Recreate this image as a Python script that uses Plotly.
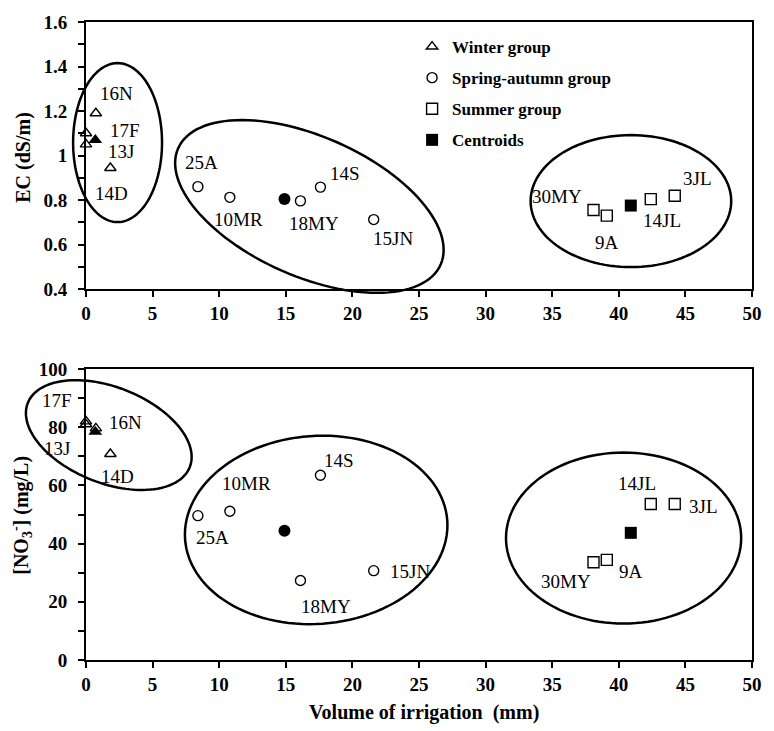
import math
import plotly.graph_objects as go

# ---------------- data ----------------
winter_names = ["16N", "17F", "13J", "14D"]
winter_irrig = [0.74, 0.0, 0.0, 1.83]
winter_ec = [1.19, 1.10, 1.05, 0.944]
winter_no3 = [79.6, 82.0, 81.0, 70.8]

spring_names = ["25A", "10MR", "18MY", "14S", "15JN"]
spring_irrig = [8.4, 10.8, 16.1, 17.6, 21.6]
spring_ec = [0.86, 0.812, 0.796, 0.858, 0.712]
spring_no3 = [49.6, 51.1, 27.3, 63.5, 30.7]

summer_names = ["30MY", "9A", "14JL", "3JL"]
summer_irrig = [38.1, 39.1, 42.4, 44.2]
summer_ec = [0.755, 0.73, 0.804, 0.819]
summer_no3 = [33.6, 34.4, 53.6, 53.6]

centroid_irrig = [0.7, 14.9, 40.9]
centroid_ec = [1.07, 0.805, 0.775]
centroid_no3 = [78.4, 44.4, 43.7]

x_ticks = [0, 5, 10, 15, 20, 25, 30, 35, 40, 45, 50]

# ---------------- layout constants ----------------
W, H = 774, 731
ML, MR, MT, MB = 86, 14, 22, 71
PW = W - ML - MR
PH = H - MT - MB
TOP_DOM = [(660 - 289) / PH, 1.0]
BOT_DOM = [0.0, (660 - 369) / PH]
X_RANGE = [0, 50]
EC_RANGE = [0.4, 1.6]
NO3_RANGE = [0, 100]

SERIF = "Liberation Serif"
TICKFONT = dict(family=SERIF, size=19, color="black", weight="bold")
LABELFONT = dict(family=SERIF, size=19, color="black")

# label offsets in px (dx right, dy down) for each named point
top_off = {
    "16N": (21, -20), "17F": (39, -3), "13J": (35, 7), "14D": (1, 26),
    "25A": (4, -24), "10MR": (9, 22), "18MY": (14, 23), "14S": (25, -14), "15JN": (19, 19),
    "30MY": (-36, -14), "9A": (0, 27), "14JL": (11, 21), "3JL": (23, -17),
}
bot_off = {
    "16N": (30, -6), "17F": (-29, -21), "13J": (-29, 24), "14D": (7, 23),
    "25A": (15, 22), "10MR": (17, -28), "18MY": (26, 26), "14S": (19, -15), "15JN": (36, 1),
    "30MY": (-27, 19), "9A": (24, 12), "14JL": (-14, -21), "3JL": (29, 2),
}

# ellipses: (cx, cy, semi-axis a px, semi-axis b px, rotation deg clockwise)
top_ellipses = [(2.37, 1.058, 45, 79.5, 0), (16.77, 0.771, 145, 70, 23.5), (40.91, 0.795, 101.5, 66, 0)]
bot_ellipses = [(1.71, 77.3, 88, 48, 21.2), (17.28, 44.7, 133, 94, -4), (40.36, 41.9, 119, 85.5, 0)]

fig = go.Figure()

def add_panel(ycol_w, ycol_s, ycol_su, ycol_c, xa, ya, legend):
    open_line = dict(color="black", width=1.4)
    fig.add_trace(go.Scatter(x=winter_irrig, y=ycol_w, mode="markers", name="Winter group",
                             xaxis=xa, yaxis=ya, showlegend=legend, legendgroup="w", cliponaxis=False,
                             marker=dict(symbol="triangle-up-open", size=10, color="black", line=open_line)))
    fig.add_trace(go.Scatter(x=spring_irrig, y=ycol_s, mode="markers", name="Spring-autumn group",
                             xaxis=xa, yaxis=ya, showlegend=legend, legendgroup="s", cliponaxis=False,
                             marker=dict(symbol="circle-open", size=10, color="black", line=open_line)))
    fig.add_trace(go.Scatter(x=summer_irrig, y=ycol_su, mode="markers", name="Summer group",
                             xaxis=xa, yaxis=ya, showlegend=legend, legendgroup="su", cliponaxis=False,
                             marker=dict(symbol="square-open", size=11, color="black", line=open_line)))
    fig.add_trace(go.Scatter(x=centroid_irrig, y=ycol_c, mode="markers", name="Centroids",
                             xaxis=xa, yaxis=ya, showlegend=False, cliponaxis=False,
                             marker=dict(symbol=["triangle-up", "circle", "square"], size=12,
                                         color="black", opacity=1)))

add_panel(winter_ec, spring_ec, summer_ec, centroid_ec, "x", "y", True)
add_panel(winter_no3, spring_no3, summer_no3, centroid_no3, "x2", "y2", False)
# legend-only entry for centroids
fig.add_trace(go.Scatter(x=[None], y=[None], mode="markers", name="Centroids", legendgroup="c",
                         marker=dict(symbol="square", size=12, color="black"), xaxis="x", yaxis="y"))

annotations = []
def add_labels(names, xs, ys, offs, xa, ya):
    for n, xv, yv in zip(names, xs, ys):
        dx, dy = offs[n]
        annotations.append(dict(x=xv, y=yv, xref=xa, yref=ya, text=n, showarrow=False,
                                xanchor="center", yanchor="middle",
                                xshift=dx, yshift=-dy, font=LABELFONT))

add_labels(winter_names, winter_irrig, winter_ec, top_off, "x", "y")
add_labels(spring_names, spring_irrig, spring_ec, top_off, "x", "y")
add_labels(summer_names, summer_irrig, summer_ec, top_off, "x", "y")
add_labels(winter_names, winter_irrig, winter_no3, bot_off, "x2", "y2")
add_labels(spring_names, spring_irrig, spring_no3, bot_off, "x2", "y2")
add_labels(summer_names, summer_irrig, summer_no3, bot_off, "x2", "y2")

TITLEFONT = dict(family=SERIF, size=20, color="black", weight="bold")
annotations.append(dict(x=(22 - ML) / PW, y=(660 - 157) / PH, xref="paper", yref="paper",
                        xanchor="center", yanchor="middle",
                        text="EC (dS/m)", textangle=-90, showarrow=False, font=TITLEFONT))
annotations.append(dict(x=(21 - ML) / PW, y=(660 - 515) / PH, xref="paper", yref="paper",
                        xanchor="center", yanchor="middle",
                        text="[NO<sub>3</sub><sup>-</sup>] (mg/L)", textangle=-90, showarrow=False,
                        font=TITLEFONT))
annotations.append(dict(x=(428 - ML) / PW, y=(660 - 712) / PH, xref="paper", yref="paper",
                        xanchor="center", yanchor="middle",
                        text="Volume of irrigation\u00a0\u00a0(mm)", showarrow=False, font=TITLEFONT))

# ellipse shapes in axis-domain coordinates (not clipped)
def ellipse_path(cx, cy, a, b, rot, xr, yr, dom):
    hpx = (dom[1] - dom[0]) * PH
    fx0 = (cx - xr[0]) / (xr[1] - xr[0])
    fy0 = (cy - yr[0]) / (yr[1] - yr[0])
    th = math.radians(rot)
    pts = []
    for i in range(121):
        t = 2 * math.pi * i / 120
        dxp = a * math.cos(t) * math.cos(th) - b * math.sin(t) * math.sin(th)
        dyp = a * math.cos(t) * math.sin(th) + b * math.sin(t) * math.cos(th)
        pts.append((fx0 + dxp / PW, fy0 - dyp / hpx))
    return "M " + " L ".join(f"{p[0]:.5f},{p[1]:.5f}" for p in pts) + " Z"

shapes = []
for e in top_ellipses:
    shapes.append(dict(type="path", xref="x domain", yref="y domain",
                       path=ellipse_path(*e, X_RANGE, EC_RANGE, TOP_DOM),
                       line=dict(color="black", width=2.5), layer="above"))
for e in bot_ellipses:
    shapes.append(dict(type="path", xref="x2 domain", yref="y2 domain",
                       path=ellipse_path(*e, X_RANGE, NO3_RANGE, BOT_DOM),
                       line=dict(color="black", width=2.5), layer="above"))

axis_common = dict(showline=True, linecolor="black", linewidth=2, mirror=True, showgrid=False,
                   zeroline=False, ticks="outside", ticklen=6, tickwidth=1.5, tickcolor="black",
                   tickfont=TICKFONT)

fig.update_layout(
    width=W, height=H,
    margin=dict(l=ML, r=MR, t=MT, b=MB),
    paper_bgcolor="white", plot_bgcolor="white",
    xaxis=dict(domain=[0, 1], anchor="y", range=X_RANGE, tickvals=x_ticks, **axis_common),
    yaxis=dict(domain=TOP_DOM, anchor="x", range=EC_RANGE, tick0=0.4, dtick=0.2,
               ticklabelstandoff=7,
               minor=dict(dtick=0.1, tick0=0.4, ticks="outside", ticklen=6, tickwidth=1.5,
                          tickcolor="black", showgrid=False),
               **axis_common),
    xaxis2=dict(domain=[0, 1], anchor="y2", range=X_RANGE, tickvals=x_ticks, **axis_common),
    yaxis2=dict(domain=BOT_DOM, anchor="x2", range=NO3_RANGE, tick0=0, dtick=20,
                ticklabelstandoff=7,
                minor=dict(dtick=10, tick0=0, ticks="outside", ticklen=6, tickwidth=1.5,
                           tickcolor="black", showgrid=False),
                **axis_common),
    showlegend=True,
    legend=dict(x=(416 - ML) / PW, y=(660 - 29) / PH, xanchor="left", yanchor="top",
                bgcolor="rgba(0,0,0,0)", borderwidth=0, tracegroupgap=6,
                font=dict(family=SERIF, size=17, color="black", weight="bold")),
    annotations=annotations,
    shapes=shapes,
)

fig.write_html("out.html", config={"displayModeBar": False},
               post_script="document.body.style.margin='0';document.body.style.padding='0';")
